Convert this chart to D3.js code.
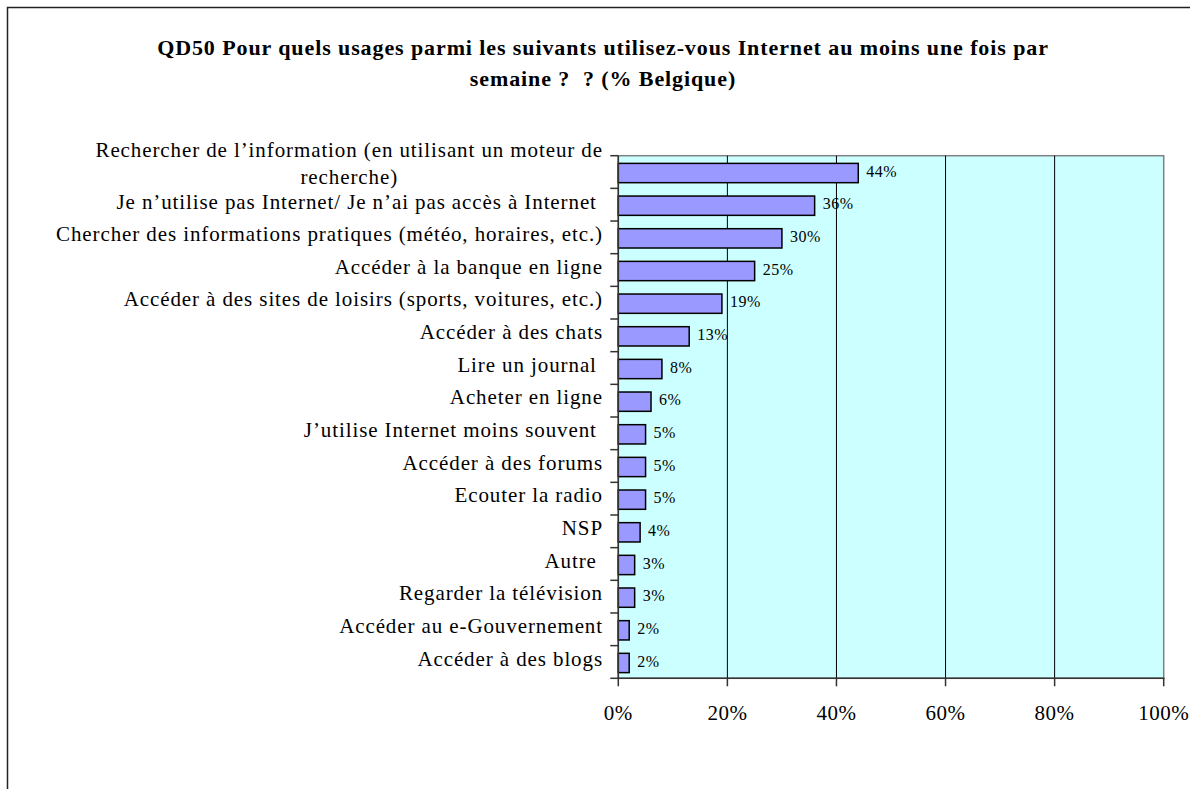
<!DOCTYPE html>
<html>
<head>
<meta charset="utf-8">
<script src="https://cdn.jsdelivr.net/npm/d3@7"></script>
<style>
  body { margin: 0; background: #fff; }
  svg text { font-family: "Liberation Serif", "Times New Roman", serif; fill: #000; }
</style>
</head>
<body>
<svg id="chart" width="1190" height="789"></svg>
<script>
// Survey answers, top to bottom, with the share of respondents (%)
const categories = [
  "Rechercher de l\u2019information (en utilisant un moteur de|recherche)",
  "Je n\u2019utilise pas Internet/ Je n\u2019ai pas acc\u00e8s \u00e0 Internet ",
  "Chercher des informations pratiques (m\u00e9t\u00e9o, horaires, etc.)",
  "Acc\u00e9der \u00e0 la banque en ligne",
  "Acc\u00e9der \u00e0 des sites de loisirs (sports, voitures, etc.)",
  "Acc\u00e9der \u00e0 des chats",
  "Lire un journal ",
  "Acheter en ligne",
  "J\u2019utilise Internet moins souvent ",
  "Acc\u00e9der \u00e0 des forums",
  "Ecouter la radio",
  "NSP",
  "Autre ",
  "Regarder la t\u00e9l\u00e9vision",
  "Acc\u00e9der au e-Gouvernement",
  "Acc\u00e9der \u00e0 des blogs"
];
const values = [44, 36, 30, 25, 19, 13, 8, 6, 5, 5, 5, 4, 3, 3, 2, 2];
const xTicks = [0, 20, 40, 60, 80, 100];
const titleLines = [
  "QD50 Pour quels usages parmi les suivants utilisez-vous Internet au moins une fois par",
  "semaine ?  ? (% Belgique)"
];

const svg = d3.select('#chart');
const plot = { left: 618.3, right: 1163.7, top: 155.7, bottom: 678.3 };

// outer frame runs off the right and bottom edges of the picture
svg.append('rect')
  .attr('x', 7.5).attr('y', 7.5)
  .attr('width', 1300).attr('height', 900)
  .attr('fill', 'none')
  .attr('stroke', '#222')
  .attr('stroke-width', 1.5);

svg.append('g').selectAll('text').data(titleLines)
  .enter().append('text')
  .attr('x', 603)
  .attr('y', (d, i) => 55 + i * 31)
  .attr('text-anchor', 'middle')
  .attr('font-weight', 'bold')
  .attr('font-size', 22)
  .attr('letter-spacing', 0.9)
  .style('white-space', 'pre')
  .text(d => d);

let xscale = d3.scaleLinear().domain([0, 100]).range([plot.left, plot.right]);
let bandH = (plot.bottom - plot.top) / categories.length;
let bandTop = i => plot.top + i * bandH;

// plot background
svg.append('rect')
  .attr('x', plot.left).attr('y', plot.top)
  .attr('width', plot.right - plot.left)
  .attr('height', plot.bottom - plot.top)
  .attr('fill', '#CCFFFF')
  .attr('stroke', '#808080')
  .attr('stroke-width', 1.5);

// vertical gridlines
svg.append('g').selectAll('line').data(xTicks.slice(1, -1))
  .enter().append('line')
  .attr('x1', d => xscale(d)).attr('x2', d => xscale(d))
  .attr('y1', plot.top).attr('y2', plot.bottom)
  .attr('stroke', '#000').attr('stroke-width', 1);

// bars
let barH = 19.3;
svg.append('g').selectAll('rect').data(values)
  .enter().append('rect')
  .attr('x', xscale(0))
  .attr('y', (d, i) => bandTop(i) + bandH / 2 - barH / 2 + 1)
  .attr('width', d => xscale(d) - xscale(0))
  .attr('height', barH)
  .attr('fill', '#9999FF')
  .attr('stroke', '#000')
  .attr('stroke-width', 1.5);

// value labels
svg.append('g').selectAll('text').data(values)
  .enter().append('text')
  .attr('x', d => xscale(d) + 8)
  .attr('y', (d, i) => bandTop(i) + bandH / 2 + 1)
  .attr('dominant-baseline', 'middle')
  .attr('font-size', 16)
  .attr('letter-spacing', 0.5)
  .text(d => d + '%');

// axis lines and ticks
let axisG = svg.append('g').attr('stroke', '#333').attr('stroke-width', 1.5);
axisG.append('line')
  .attr('x1', plot.left).attr('x2', plot.left)
  .attr('y1', plot.top).attr('y2', plot.bottom);
axisG.append('line')
  .attr('x1', plot.left - 0.75).attr('x2', plot.right + 0.75)
  .attr('y1', plot.bottom).attr('y2', plot.bottom);
axisG.selectAll('.ytick').data(d3.range(categories.length + 1))
  .enter().append('line')
  .attr('x1', plot.left - 8).attr('x2', plot.left)
  .attr('y1', i => bandTop(i)).attr('y2', i => bandTop(i));
axisG.selectAll('.xtick').data(xTicks)
  .enter().append('line')
  .attr('x1', d => xscale(d)).attr('x2', d => xscale(d))
  .attr('y1', plot.bottom).attr('y2', plot.bottom + 8);

svg.append('g').selectAll('text').data(xTicks)
  .enter().append('text')
  .attr('x', d => xscale(d))
  .attr('y', 715)
  .attr('text-anchor', 'middle')
  .attr('dominant-baseline', 'middle')
  .attr('font-size', 21)
  .attr('letter-spacing', 0.5)
  .text(d => d + '%');

// category labels, right aligned; wrapped ones are centred on their block
let labelRight = 603;
categories.forEach((c, i) => {
  let lines = c.split('|');
  let cy = bandTop(i) + bandH / 2;
  if (lines.length === 1) {
    svg.append('text')
      .attr('x', labelRight)
      .attr('y', cy - 1)
      .attr('text-anchor', 'end')
      .attr('dominant-baseline', 'middle')
      .attr('font-size', 21)
      .attr('letter-spacing', 0.9)
      .style('white-space', 'pre')
      .text(c);
  } else {
    // the wrapped label sits a little high so it clears the next one
    let g = svg.append('g');
    let ts = lines.map((l, k) => g.append('text')
      .attr('y', cy - 6.5 + (k - (lines.length - 1) / 2) * 27)
      .attr('text-anchor', 'middle')
      .attr('dominant-baseline', 'middle')
      .attr('font-size', 21)
      .attr('letter-spacing', 0.9)
      .text(l));
    let w = d3.max(ts, t => t.node().getComputedTextLength());
    ts.forEach(t => t.attr('x', labelRight - w / 2));
  }
});
</script>
</body>
</html>
